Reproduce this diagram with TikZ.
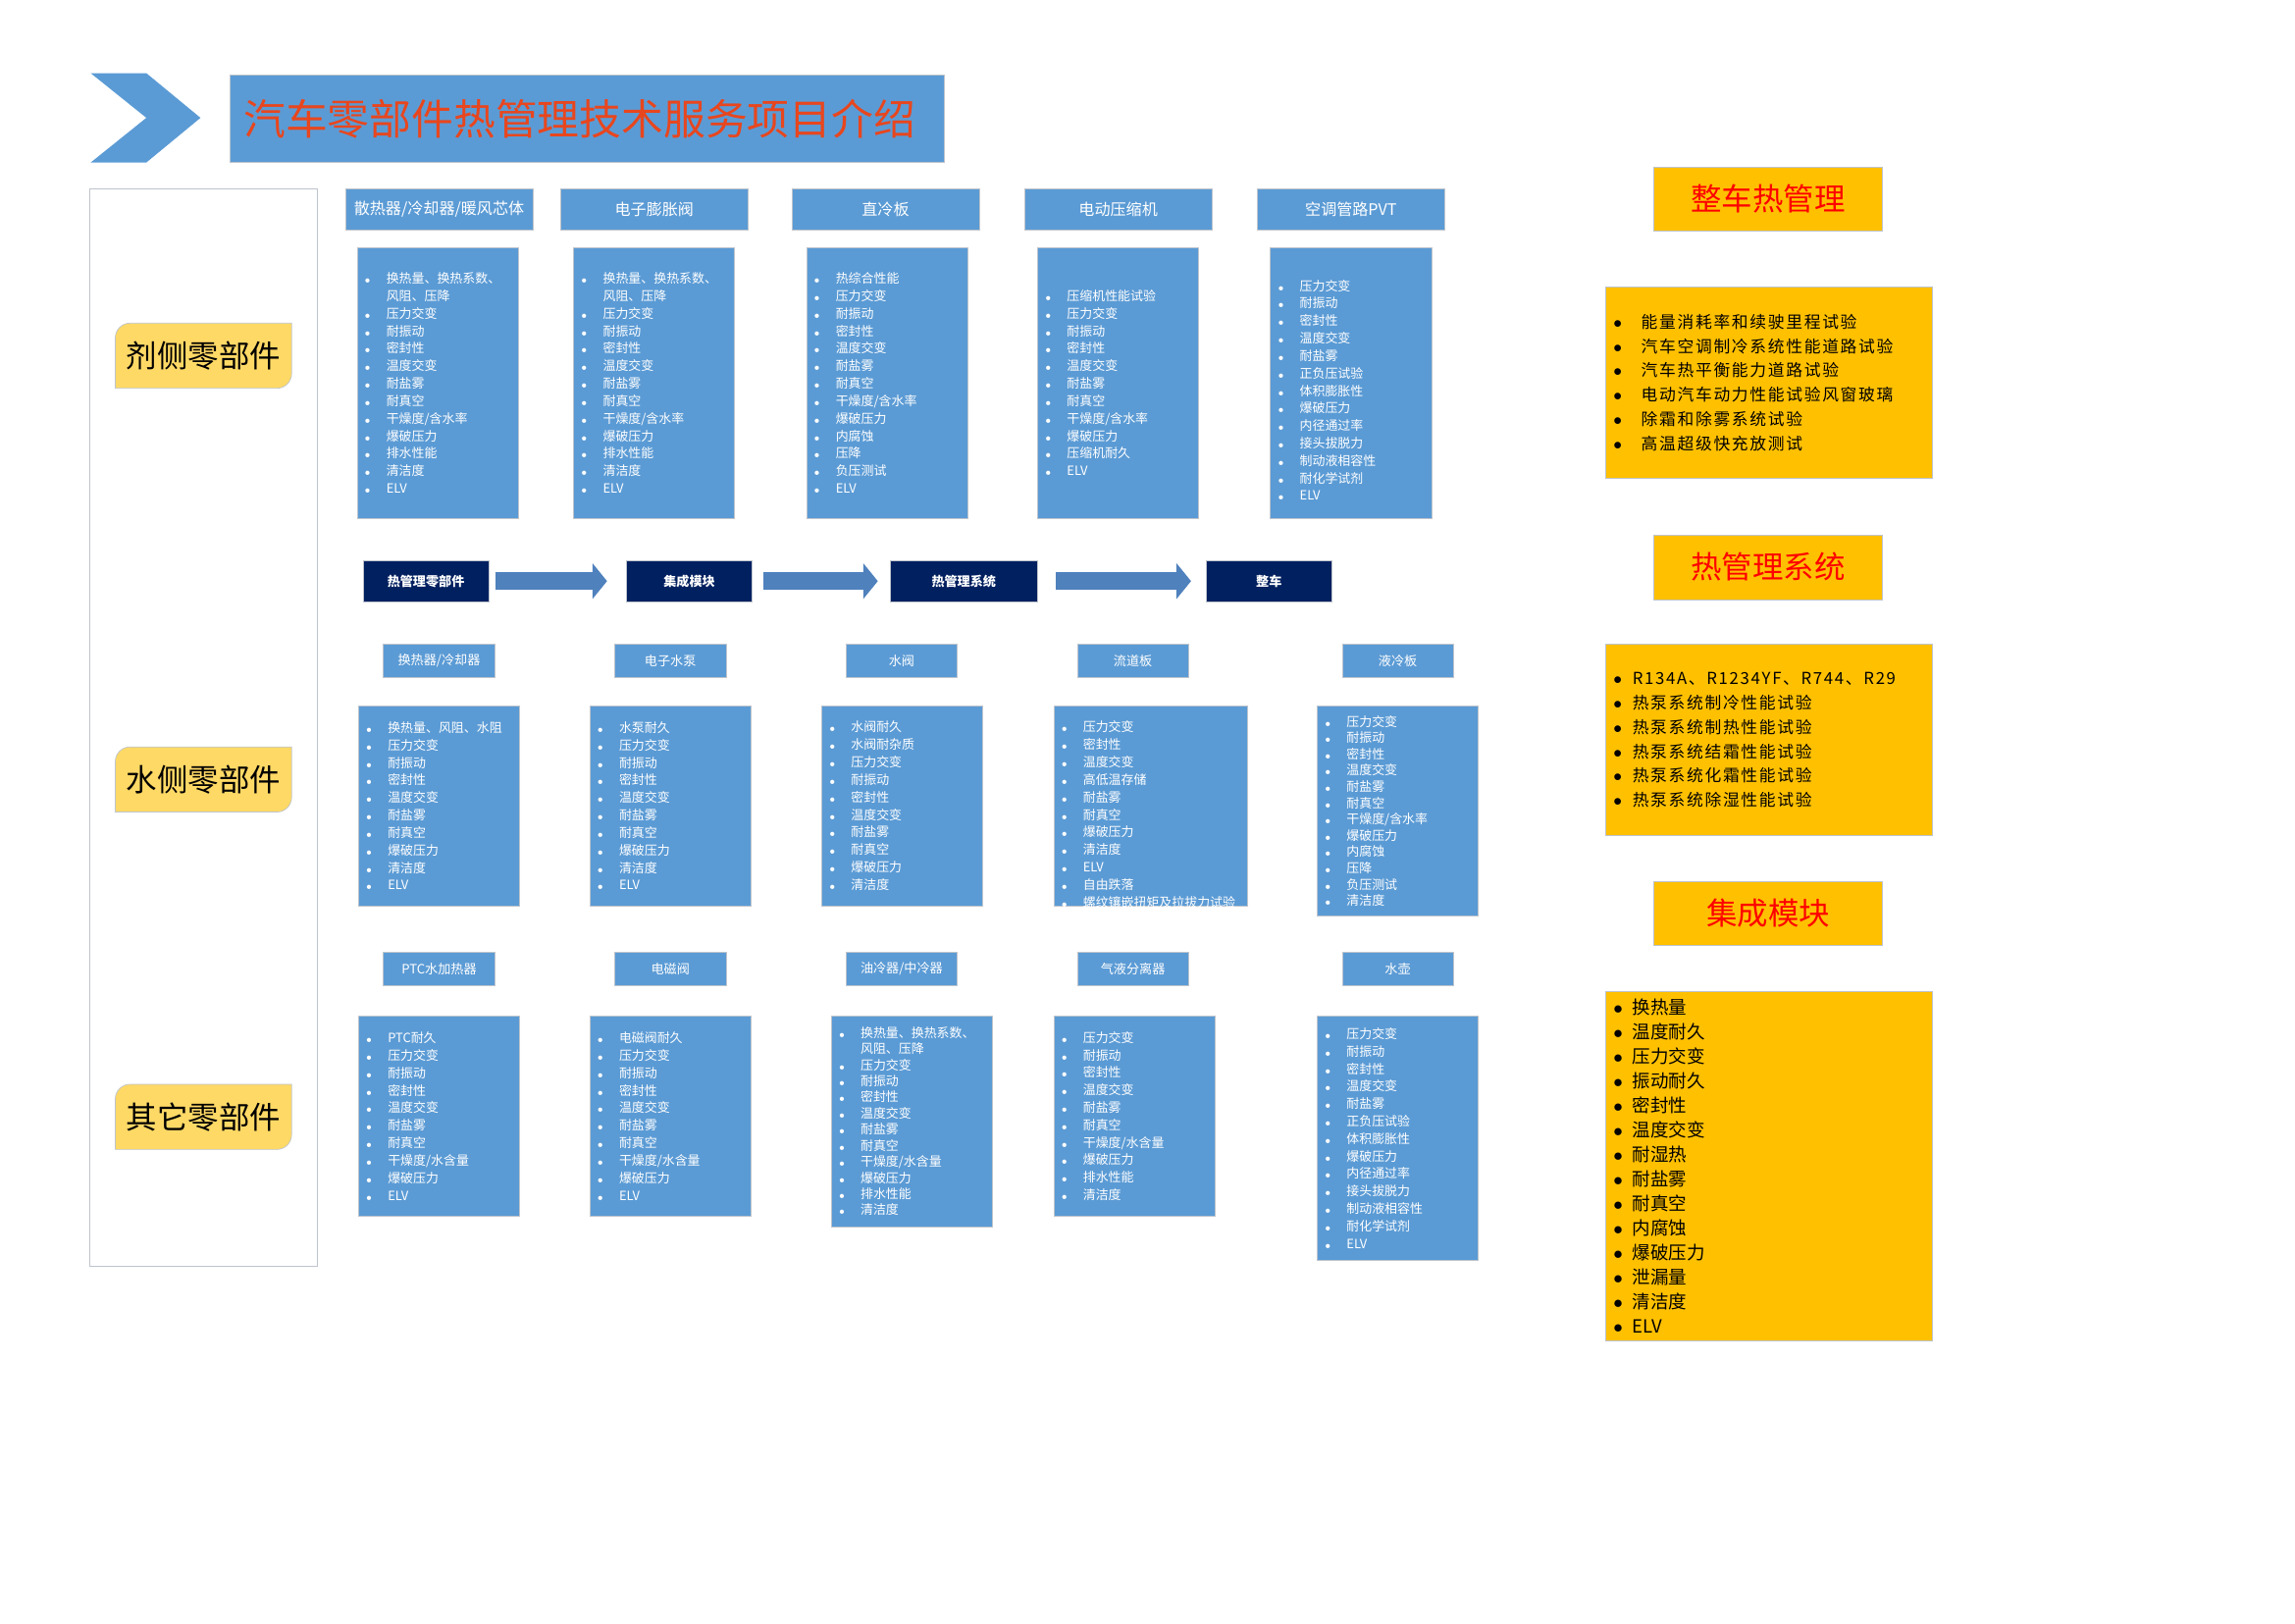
\documentclass[tikz,border=0pt]{standalone}
\usepackage{fontspec}
\setmainfont{Noto Sans CJK SC}
\newfontfamily\spacedfont[LetterSpace=10]{Noto Sans CJK SC}
\usetikzlibrary{arrows.meta,calc,backgrounds}

\definecolor{boxblue}{RGB}{91,155,213}
\definecolor{edgegray}{RGB}{190,196,204}
\definecolor{navy}{RGB}{0,32,96}
\definecolor{arrowblue}{RGB}{79,129,189}
\definecolor{gold}{RGB}{255,192,0}
\definecolor{paleyellow}{RGB}{255,217,102}
\definecolor{titlered}{RGB}{232,70,30}

\newcommand{\pu}{0.3mm}
\newcommand{\itm}[1]{\makebox[4.5mm][l]{$\scriptstyle\bullet$}#1}
\newcommand{\itc}[1]{\hspace*{4.5mm}#1}
\newcommand{\ritm}[1]{\makebox[5.7mm][l]{$\bullet$}#1}
\newcommand{\rtm}[1]{\makebox[3.9mm][l]{$\bullet$}#1}

\tikzset{
  hdr/.style={fill=boxblue, draw=edgegray, text=white, minimum width=128*\pu, minimum height=28*\pu, font=\fontsize{9.2}{11}\selectfont},
  subhdr/.style={fill=boxblue, draw=edgegray, text=white, minimum width=76*\pu, minimum height=23*\pu, font=\fontsize{7.5}{9}\selectfont},
  listbox/.style={fill=boxblue, draw=edgegray, minimum width=110*\pu},
  listtext/.style={anchor=west, inner sep=0pt, align=left, text=white, font=\fontsize{7.4}{10.2}\selectfont},
  flow/.style={fill=navy, draw=edgegray, text=white, minimum width=86*\pu, minimum height=28*\pu, font=\bfseries\fontsize{7.5}{9}\selectfont},
  flowarr/.style={draw=arrowblue, line width=3.6mm, -{Triangle[width=7.2mm,length=3mm]}},
  sidelab/.style={inner sep=0pt, minimum width=120*\pu, minimum height=44*\pu, font=\fontsize{18}{20}\selectfont},
  goldhdr/.style={fill=gold, draw=edgegray, text=red, minimum width=156*\pu, minimum height=44*\pu, font=\fontsize{18}{20}\selectfont},
  goldbox/.style={fill=gold, draw=edgegray, minimum width=223*\pu},
  goldtext/.style={anchor=west, inner sep=0pt, align=left, font=\fontsize{10.6}{14.3}\selectfont}
}

\begin{document}
\begin{tikzpicture}[x=0.3mm, y=-0.3mm]
\useasboundingbox (0,0) rectangle (1568,1109);

% title
\fill[boxblue] (62,50) -- (100,50) -- (137,80.5) -- (100,111) -- (62,111) -- (100,80.5) -- cycle;
\node[fill=boxblue, draw=edgegray, text=titlered, minimum width=488*\pu, minimum height=60*\pu,
      font=\fontsize{24.5}{28}\selectfont] (title) at (401,81) {\hspace*{-3mm}汽车零部件热管理技术服务项目介绍};

% left panel
\draw[edgegray] (61,129) rectangle (217,865);
\node[sidelab] (s1) at (139,243) {剂侧零部件};
\node[sidelab] (s2) at (139,532.5) {水侧零部件};
\node[sidelab] (s3) at (139,763) {其它零部件};
\begin{scope}[on background layer]
\foreach \s in {s1,s2,s3}
  \filldraw[fill=paleyellow, draw=edgegray] (\s.south west) -- ($(\s.north west)+(0,-3mm)$)
    arc[start angle=180, end angle=90, radius=3mm] -- (\s.north east)
    -- ($(\s.south east)+(0,3mm)$) arc[start angle=0, end angle=-90, radius=3mm] -- cycle;
\end{scope}

% refrigerant side
\node[hdr] (h1) at (300,143) {散热器/冷却器/暖风芯体};
\node[hdr] (h2) at (447,143) {电子膨胀阀};
\node[hdr] (h3) at (605,143) {直冷板};
\node[hdr] (h4) at (764,143) {电动压缩机};
\node[hdr] (h5) at (923,143) {空调管路PVT};

\node[listbox, minimum height=185*\pu] (b1) at (299,261.5) {};
\node[listtext] (b1t) at ([xshift=1.5mm]b1.west) {\itm{换热量、换热系数、}\\\itc{风阻、压降}\\\itm{压力交变}\\\itm{耐振动}\\\itm{密封性}\\\itm{温度交变}\\\itm{耐盐雾}\\\itm{耐真空}\\\itm{干燥度/含水率}\\\itm{爆破压力}\\\itm{排水性能}\\\itm{清洁度}\\\itm{ELV}};
\node[listbox, minimum height=185*\pu] (b2) at (447,261.5) {};
\node[listtext] (b2t) at ([xshift=1.5mm]b2.west) {\itm{换热量、换热系数、}\\\itc{风阻、压降}\\\itm{压力交变}\\\itm{耐振动}\\\itm{密封性}\\\itm{温度交变}\\\itm{耐盐雾}\\\itm{耐真空}\\\itm{干燥度/含水率}\\\itm{爆破压力}\\\itm{排水性能}\\\itm{清洁度}\\\itm{ELV}};
\node[listbox, minimum height=185*\pu] (b3) at (606,261.5) {};
\node[listtext] (b3t) at ([xshift=1.5mm]b3.west) {\itm{热综合性能}\\\itm{压力交变}\\\itm{耐振动}\\\itm{密封性}\\\itm{温度交变}\\\itm{耐盐雾}\\\itm{耐真空}\\\itm{干燥度/含水率}\\\itm{爆破压力}\\\itm{内腐蚀}\\\itm{压降}\\\itm{负压测试}\\\itm{ELV}};
\node[listbox, minimum height=185*\pu] (b4) at (764,261.5) {};
\node[listtext] (b4t) at ([xshift=1.5mm]b4.west) {\itm{压缩机性能试验}\\\itm{压力交变}\\\itm{耐振动}\\\itm{密封性}\\\itm{温度交变}\\\itm{耐盐雾}\\\itm{耐真空}\\\itm{干燥度/含水率}\\\itm{爆破压力}\\\itm{压缩机耐久}\\\itm{ELV}};
\node[listbox, minimum height=185*\pu] (b5) at (923,261.5) {};
\node[listtext] (b5t) at ([xshift=1.5mm,yshift=-1.5mm]b5.west) {\itm{压力交变}\\\itm{耐振动}\\\itm{密封性}\\\itm{温度交变}\\\itm{耐盐雾}\\\itm{正负压试验}\\\itm{体积膨胀性}\\\itm{爆破压力}\\\itm{内径通过率}\\\itm{接头拔脱力}\\\itm{制动液相容性}\\\itm{耐化学试剂}\\\itm{ELV}};

% flow
\node[flow] (f1) at (291,397) {热管理零部件};
\node[flow] (f2) at (471,397) {集成模块};
\node[flow, minimum width=101*\pu] (f3) at (658.5,397) {热管理系统};
\node[flow] (f4) at (867,397) {整车};
\draw[flowarr, shorten <=1.2mm, shorten >=3.9mm] (f1) -- (f2);
\draw[flowarr, shorten <=2.1mm, shorten >=2.4mm] (f2) -- (f3);
\draw[flowarr, shorten <=3.6mm, shorten >=3mm] (f3) -- (f4);

% water side
\node[subhdr] (c1h) at (300,451.5) {换热器/冷却器};
\node[subhdr] (c2h) at (458,451.5) {电子水泵};
\node[subhdr] (c3h) at (616,451.5) {水阀};
\node[subhdr] (c4h) at (774,451.5) {流道板};
\node[subhdr] (c5h) at (955,451.5) {液冷板};

\node[listbox, minimum height=137*\pu] (c1) at (300,550.5) {};
\node[listtext] (c1t) at ([xshift=1.5mm]c1.west) {\itm{换热量、风阻、水阻}\\\itm{压力交变}\\\itm{耐振动}\\\itm{密封性}\\\itm{温度交变}\\\itm{耐盐雾}\\\itm{耐真空}\\\itm{爆破压力}\\\itm{清洁度}\\\itm{ELV}};
\node[listbox, minimum height=137*\pu] (c2) at (458,550.5) {};
\node[listtext] (c2t) at ([xshift=1.5mm]c2.west) {\itm{水泵耐久}\\\itm{压力交变}\\\itm{耐振动}\\\itm{密封性}\\\itm{温度交变}\\\itm{耐盐雾}\\\itm{耐真空}\\\itm{爆破压力}\\\itm{清洁度}\\\itm{ELV}};
\node[listbox, minimum height=137*\pu] (c3) at (616.5,550.5) {};
\node[listtext] (c3t) at ([xshift=1.5mm]c3.west) {\itm{水阀耐久}\\\itm{水阀耐杂质}\\\itm{压力交变}\\\itm{耐振动}\\\itm{密封性}\\\itm{温度交变}\\\itm{耐盐雾}\\\itm{耐真空}\\\itm{爆破压力}\\\itm{清洁度}};
\node[listbox, minimum width=132*\pu, minimum height=137*\pu] (c4) at (786,550.5) {};
\node[listtext, font=\fontsize{7.4}{10.2}\selectfont] (c4t) at ([xshift=1.5mm,yshift=-1.8mm]c4.west) {\itm{压力交变}\\\itm{密封性}\\\itm{温度交变}\\\itm{高低温存储}\\\itm{耐盐雾}\\\itm{耐真空}\\\itm{爆破压力}\\\itm{清洁度}\\\itm{ELV}\\\itm{自由跌落}\\\itm{螺纹镶嵌扭矩及拉拔力试验}};
\node[listbox, minimum height=144*\pu] (c5) at (955,554) {};
\node[listtext, font=\fontsize{7.4}{9.5}\selectfont] (c5t) at ([xshift=1.5mm]c5.west) {\itm{压力交变}\\\itm{耐振动}\\\itm{密封性}\\\itm{温度交变}\\\itm{耐盐雾}\\\itm{耐真空}\\\itm{干燥度/含水率}\\\itm{爆破压力}\\\itm{内腐蚀}\\\itm{压降}\\\itm{负压测试}\\\itm{清洁度}};

% other parts
\node[subhdr] (d1h) at (300,662) {PTC水加热器};
\node[subhdr] (d2h) at (458,662) {电磁阀};
\node[subhdr] (d3h) at (616,662) {油冷器/中冷器};
\node[subhdr] (d4h) at (774,662) {气液分离器};
\node[subhdr] (d5h) at (955,662) {水壶};

\node[listbox, minimum height=137*\pu] (d1) at (300,762.5) {};
\node[listtext] (d1t) at ([xshift=1.5mm]d1.west) {\itm{PTC耐久}\\\itm{压力交变}\\\itm{耐振动}\\\itm{密封性}\\\itm{温度交变}\\\itm{耐盐雾}\\\itm{耐真空}\\\itm{干燥度/水含量}\\\itm{爆破压力}\\\itm{ELV}};
\node[listbox, minimum height=137*\pu] (d2) at (458,762.5) {};
\node[listtext] (d2t) at ([xshift=1.5mm]d2.west) {\itm{电磁阀耐久}\\\itm{压力交变}\\\itm{耐振动}\\\itm{密封性}\\\itm{温度交变}\\\itm{耐盐雾}\\\itm{耐真空}\\\itm{干燥度/水含量}\\\itm{爆破压力}\\\itm{ELV}};
\node[listbox, minimum height=144*\pu] (d3) at (623,766) {};
\node[listtext, font=\fontsize{7.4}{9.4}\selectfont] (d3t) at ([xshift=1.5mm]d3.west) {\itm{换热量、换热系数、}\\\itc{风阻、压降}\\\itm{压力交变}\\\itm{耐振动}\\\itm{密封性}\\\itm{温度交变}\\\itm{耐盐雾}\\\itm{耐真空}\\\itm{干燥度/水含量}\\\itm{爆破压力}\\\itm{排水性能}\\\itm{清洁度}};
\node[listbox, minimum height=137*\pu] (d4) at (775,762.5) {};
\node[listtext] (d4t) at ([xshift=1.5mm]d4.west) {\itm{压力交变}\\\itm{耐振动}\\\itm{密封性}\\\itm{温度交变}\\\itm{耐盐雾}\\\itm{耐真空}\\\itm{干燥度/水含量}\\\itm{爆破压力}\\\itm{排水性能}\\\itm{清洁度}};
\node[listbox, minimum height=167*\pu] (d5) at (955,777.5) {};
\node[listtext] (d5t) at ([xshift=1.5mm]d5.west) {\itm{压力交变}\\\itm{耐振动}\\\itm{密封性}\\\itm{温度交变}\\\itm{耐盐雾}\\\itm{正负压试验}\\\itm{体积膨胀性}\\\itm{爆破压力}\\\itm{内径通过率}\\\itm{接头拔脱力}\\\itm{制动液相容性}\\\itm{耐化学试剂}\\\itm{ELV}};

% right column
\node[goldhdr] (g1) at (1208,136) {整车热管理};
\node[goldbox, minimum height=131*\pu] (l1) at (1208.5,261.5) {};
\node[goldtext, font=\spacedfont\fontsize{9.6}{14.3}\selectfont] (l1t) at ([xshift=1.6mm]l1.west) {\ritm{能量消耗率和续驶里程试验}\\\ritm{汽车空调制冷系统性能道路试验}\\\ritm{汽车热平衡能力道路试验}\\\ritm{电动汽车动力性能试验风窗玻璃}\\\ritm{除霜和除雾系统试验}\\\ritm{高温超级快充放测试}};

\node[goldhdr] (g2) at (1208,387.5) {热管理系统};
\node[goldbox, minimum height=131*\pu] (l2) at (1208.5,505.5) {};
\node[goldtext, font=\spacedfont\fontsize{9.6}{14.3}\selectfont] (l2t) at ([xshift=1.6mm]l2.west) {\rtm{R134A、R1234YF、R744、R29}\\\rtm{热泵系统制冷性能试验}\\\rtm{热泵系统制热性能试验}\\\rtm{热泵系统结霜性能试验}\\\rtm{热泵系统化霜性能试验}\\\rtm{热泵系统除湿性能试验}};

\node[goldhdr] (g3) at (1208,624) {集成模块};
\node[goldbox, minimum height=239*\pu] (l3) at (1208.5,796.5) {};
\node[goldtext] (l3t) at ([xshift=1.6mm]l3.west) {\rtm{换热量}\\\rtm{温度耐久}\\\rtm{压力交变}\\\rtm{振动耐久}\\\rtm{密封性}\\\rtm{温度交变}\\\rtm{耐湿热}\\\rtm{耐盐雾}\\\rtm{耐真空}\\\rtm{内腐蚀}\\\rtm{爆破压力}\\\rtm{泄漏量}\\\rtm{清洁度}\\\rtm{ELV}};
\end{tikzpicture}
\end{document}
